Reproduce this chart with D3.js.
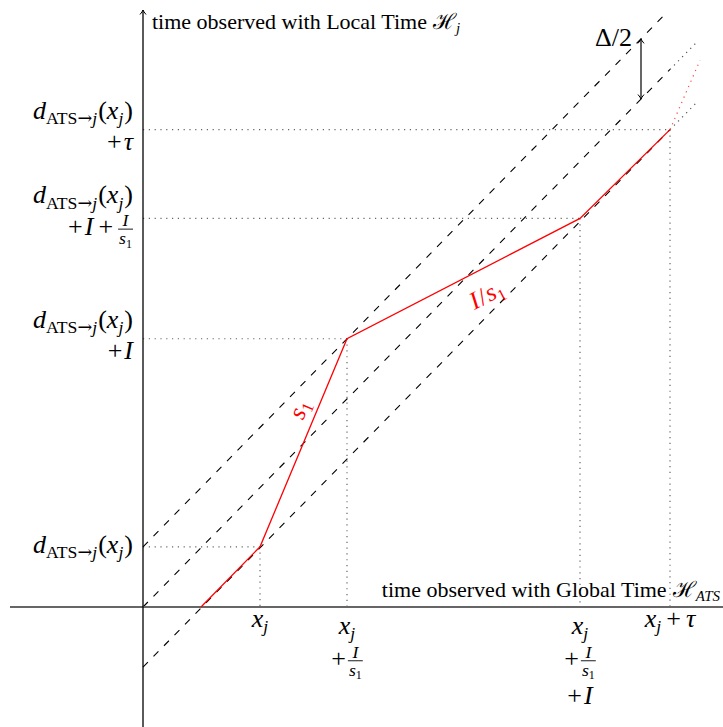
<!DOCTYPE html>
<html>
<head>
<meta charset="utf-8">
<script src="https://cdn.jsdelivr.net/npm/d3@7"></script>
<style>
  body { margin: 0; background: #fff; }
  svg { display: block; font-family: "Liberation Serif", "DejaVu Serif", serif; }
</style>
</head>
<body>
<svg id="chart" width="723" height="727"></svg>
<script>
// chart values, in "global time" / "local time" units
const redPath = [[5.8, 0], [11.7, 5.9], [20.4, 26.3], [43.7, 38.1], [52.7, 46.8]];
const redContinuation = [[52.7, 46.8], [55.7, 53.6]];
const bandOffsets = [5.9, 0, -5.9];        // local = global + offset (upper, middle, lower)
const bandDashedEnd = [52.5, 52.7, 52.7];  // dashed part stops here
const bandDottedEnd = [52.5, 55.5, 55.5];  // then dotted up to here
const markX = [11.7, 20.4, 43.7, 52.7];
const markY = [5.9, 26.3, 38.1, 46.8];
const deltaArrowX = 49.8;

// label text, as tokens: i = italic, s = subscript, a = arrow glyph, sp = gap, f = fraction
const D = [{ t: 'd', i: 1 }, { t: 'ATS', s: 1 }, { t: '→', s: 1, a: 1 }, { t: 'j', s: 1, i: 1 }, { sp: 1 }, { t: '(' }, { t: 'x', i: 1 }, { t: 'j', s: 1, i: 1 }, { sp: 1 }, { t: ')' }];
const XJ = [{ t: 'x', i: 1 }, { t: 'j', s: 1, i: 1 }];
const FRAC = { f: [[{ t: 'I', i: 1 }], [{ t: 's', i: 1 }, { t: '1', s: 1 }]] };
const yTickLabels = [
  [D],
  [D, [{ t: '+' }, { sp: 2 }, { t: 'I', i: 1 }]],
  [D, [{ t: '+' }, { sp: 2 }, { t: 'I', i: 1 }, { sp: 5 }, { t: '+' }, { sp: 5 }, FRAC]],
  [D, [{ t: '+' }, { sp: 2 }, { t: 'τ', i: 1 }]]
];
const xTickLabels = [
  [XJ],
  [XJ, [{ t: '+' }, { sp: 2 }, FRAC]],
  [XJ, [{ t: '+' }, { sp: 2 }, FRAC], [{ t: '+' }, { sp: 2 }, { t: 'I', i: 1 }]],
  [[...XJ, { sp: 5 }, { t: '+' }, { sp: 5 }, { t: 'τ', i: 1 }]]
];
const yTitle = [{ t: 'time observed with Local Time' }, { sp: 6 }, { t: 'ℋ' }, { t: 'j', s: 1, i: 1 }];
const xTitle = [{ t: 'time observed with Global Time' }, { sp: 6 }, { t: 'ℋ' }, { t: 'ATS', s: 1, i: 1 }];
const deltaLabel = [{ t: 'Δ/2' }];
const slopeLabels = [
  [{ t: 's', i: 1 }, { t: '1', s: 1 }],
  [{ t: 'I', i: 1 }, { sp: 1 }, { t: '/' }, { sp: 1 }, { t: 's', i: 1 }, { t: '1', s: 1 }]
];

const svg = d3.select('#chart');
const x = d3.scaleLinear().domain([0, 58]).range([143, 723]);
const y = d3.scaleLinear().domain([0, 58]).range([607, 607 - 58 * 10.2]);
const line = d3.line().x((d) => x(d[0])).y((d) => y(d[1]));

// builds a row of math tokens at baseline 0, returns group and width
function mathRow(parent, tokens, size, color) {
  const g = parent.append('g').attr('fill', color);
  let cx = 0;
  tokens.forEach((tk) => {
    if (tk.sp) { cx += tk.sp; return; }
    if (tk.f) {
      const fs = size * 0.68;
      const num = mathRow(g, tk.f[0], fs, color);
      const den = mathRow(g, tk.f[1], fs, color);
      const w = Math.max(num.w, den.w) + 2;
      num.g.attr('transform', `translate(${cx + (w - num.w) / 2},${-size * 0.36})`);
      den.g.attr('transform', `translate(${cx + (w - den.w) / 2},${size * 0.34})`);
      g.append('line')
        .attr('x1', cx).attr('x2', cx + w)
        .attr('y1', -size * 0.24).attr('y2', -size * 0.24)
        .attr('stroke', color).attr('stroke-width', 0.9);
      cx += w;
      return;
    }
    const t = g.append('text')
      .attr('x', cx)
      .attr('y', tk.s ? size * 0.2 : 0)
      .attr('font-size', tk.s ? size * 0.68 : size)
      .attr('font-style', tk.i ? 'italic' : null)
      .attr('font-family', tk.a ? 'DejaVu Serif' : null)
      .text(tk.t);
    cx += t.node().getComputedTextLength();
  });
  return { g, w: cx };
}

function place(tokens, size, color, px, py, anchor) {
  const holder = svg.append('g');
  const r = mathRow(holder, tokens, size, color);
  const dx = anchor === 'end' ? -r.w : anchor === 'middle' ? -r.w / 2 : 0;
  r.g.attr('transform', `translate(${dx},0)`);
  holder.attr('transform', `translate(${px},${py})`);
  return holder;
}

svg.append('defs').append('marker')
  .attr('id', 'arr')
  .attr('viewBox', '-6 -4 8 8')
  .attr('markerWidth', 8).attr('markerHeight', 8)
  .attr('markerUnits', 'userSpaceOnUse')
  .attr('orient', 'auto-start-reverse')
  .append('path')
  .attr('d', 'M-4.5,-3 Q-1.5,-0.5 0,0 Q-1.5,0.5 -4.5,3')
  .attr('fill', 'none').attr('stroke', '#000').attr('stroke-width', 1);

// guide lines (dotted)
markX.forEach((mx, i) => {
  svg.append('path')
    .attr('d', line([[0, markY[i]], [mx, markY[i]]]))
    .attr('stroke', '#666').attr('stroke-width', 1.2).attr('stroke-dasharray', '1.2,4.6').attr('fill', 'none');
  svg.append('path')
    .attr('d', line([[mx, markY[i]], [mx, 0]]))
    .attr('stroke', '#666').attr('stroke-width', 1.2).attr('stroke-dasharray', '1.2,4.6').attr('fill', 'none');
});

// band lines
bandOffsets.forEach((off, i) => {
  svg.append('path')
    .attr('d', line([[0, off], [bandDashedEnd[i], bandDashedEnd[i] + off]]))
    .attr('stroke', '#000').attr('stroke-width', 1.1).attr('stroke-dasharray', '7,8').attr('fill', 'none');
  if (bandDottedEnd[i] > bandDashedEnd[i]) {
    svg.append('path')
      .attr('d', line([[bandDashedEnd[i], bandDashedEnd[i] + off], [bandDottedEnd[i], bandDottedEnd[i] + off]]))
      .attr('stroke', '#555').attr('stroke-width', 1.2).attr('stroke-dasharray', '1.2,4.6').attr('fill', 'none');
  }
});

// axes
svg.append('path')
  .attr('d', line([[x.invert(10), 0], [x.invert(723), 0]]))
  .attr('stroke', '#666').attr('stroke-width', 2).attr('fill', 'none');
svg.append('path')
  .attr('d', line([[0, y.invert(727)], [0, y.invert(10)]]))
  .attr('stroke', '#000').attr('stroke-width', 1.3).attr('fill', 'none')
  .attr('marker-end', 'url(#arr)');

// red curve
svg.append('path')
  .attr('d', line(redPath))
  .attr('stroke', '#f00').attr('stroke-width', 1.3).attr('fill', 'none');
svg.append('path')
  .attr('d', line(redContinuation))
  .attr('stroke', '#f44').attr('stroke-width', 1.2).attr('stroke-dasharray', '1.2,4.6').attr('fill', 'none');

// delta/2 arrow
svg.append('path')
  .attr('d', line([[deltaArrowX, deltaArrowX + bandOffsets[1]], [deltaArrowX, deltaArrowX + bandOffsets[0]]]))
  .attr('stroke', '#000').attr('stroke-width', 1.2).attr('fill', 'none')
  .attr('marker-start', 'url(#arr)').attr('marker-end', 'url(#arr)');
place(deltaLabel, 26, '#000', x(deltaArrowX) - 9, y(deltaArrowX + bandOffsets[0]) + 7, 'end');

// y tick labels
yTickLabels.forEach((rows, i) => {
  const py = y(markY[i]);
  const hasFrac = rows.some((r) => r.some((tk) => tk.f));
  let base = rows.length === 1 ? py + 6 : py - (hasFrac ? 15 : 11);
  rows.forEach((r) => {
    place(r, 26, '#000', 133, base, 'end');
    base += hasFrac ? 32 : 31;
  });
});

// x tick labels
const isFrac = (row) => row && row.some((tk) => tk.f);
xTickLabels.forEach((rows, i) => {
  const px = x(markX[i]);
  let base = rows.length === 1 ? 627 : 634;
  rows.forEach((r, k) => {
    place(r, 26, '#000', px, base, 'middle');
    base += isFrac(r) ? 37 : isFrac(rows[k + 1]) ? 33 : 26;
  });
});

// axis titles
place(yTitle, 22, '#000', 152, 29, 'start');
place(xTitle, 22, '#000', 720, 597, 'end');

// slope labels along red segments
[[1, 0.63, -16], [2, 0.55, 26]].forEach(([seg, t, off], k) => {
  const a = redPath[seg], b = redPath[seg + 1];
  const ax = x(a[0]), ay = y(a[1]), bx = x(b[0]), by = y(b[1]);
  const ang = Math.atan2(by - ay, bx - ax);
  const cx = ax + (bx - ax) * t - Math.sin(ang) * off;
  const cy = ay + (by - ay) * t + Math.cos(ang) * off;
  const holder = place(slopeLabels[k], 25, '#f00', 0, 0, 'middle');
  holder.attr('transform', `translate(${cx},${cy}) rotate(${ang * 180 / Math.PI}) translate(0,7)`);
});
</script>
</body>
</html>
